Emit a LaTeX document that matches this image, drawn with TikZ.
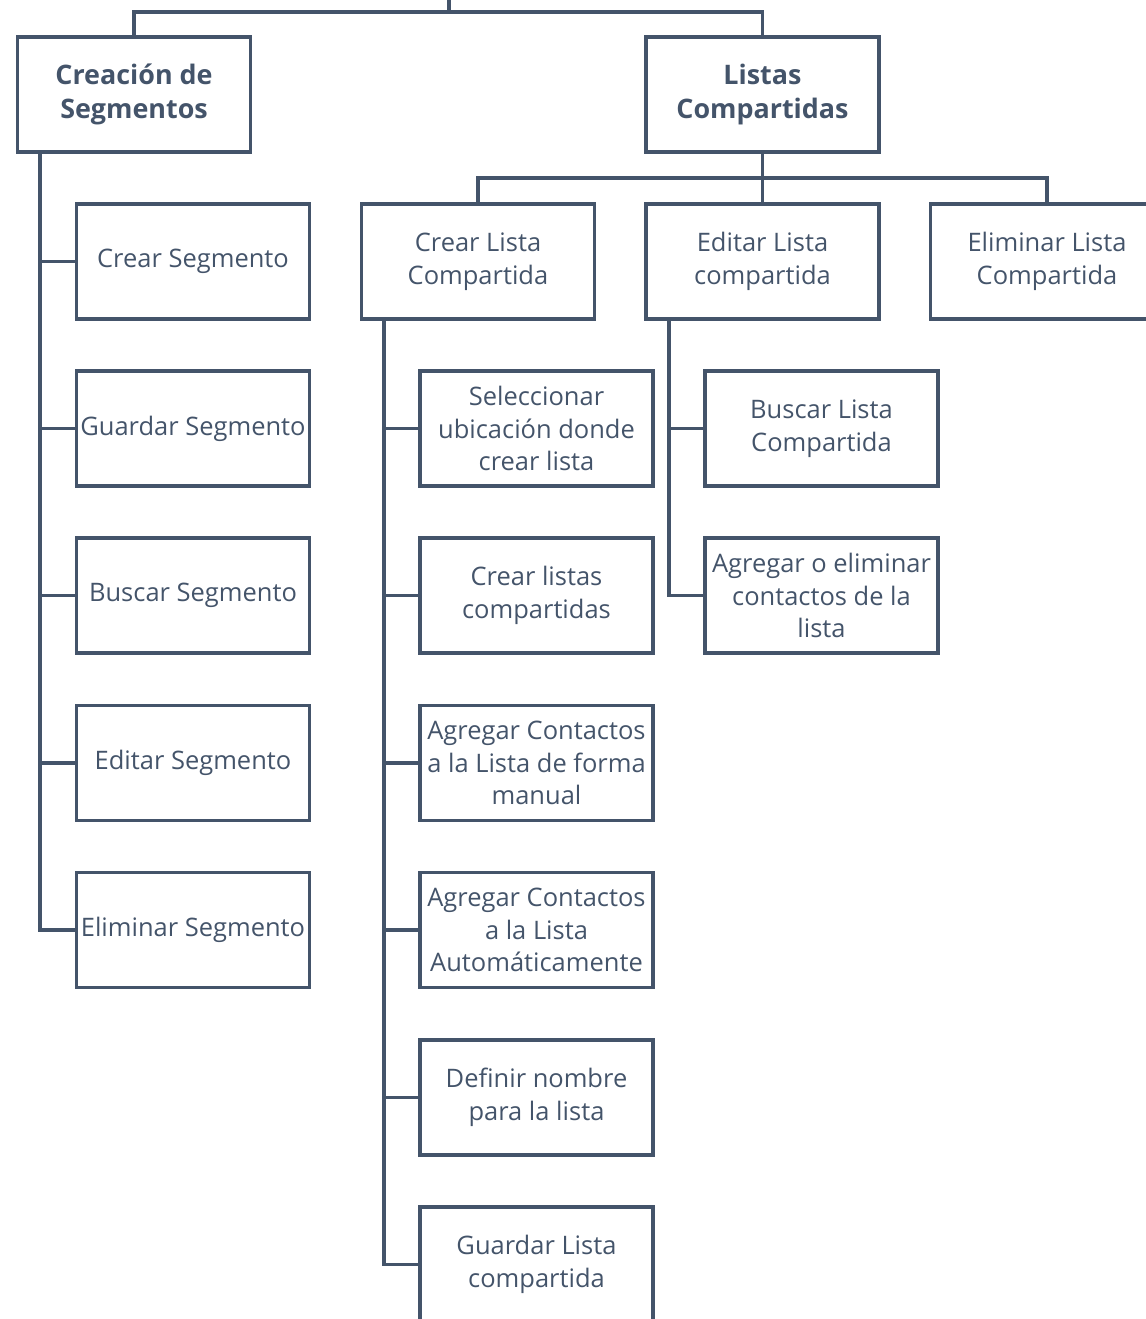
\documentclass[tikz,border=0pt]{standalone}
\usepackage{fontspec}
\setmainfont{Open Sans}
\definecolor{slate}{HTML}{44546A}
\begin{document}
\begin{tikzpicture}
  [x=0.02cm,y=-0.02cm,line width=1.8pt,draw=slate,
   every node/.style={draw=slate,line width=1.8pt,text=slate,align=center,
     minimum width=4.66cm,minimum height=2.3cm,inner sep=1pt,
     font=\fontsize{14.5}{18.6}\selectfont},
   head/.style={font=\fontsize{15.3}{19.4}\selectfont\bfseries}]
  \useasboundingbox (0,0) rectangle (1146,1319);
  \clip (0,0) rectangle (1146,1319);

  \node[head] (seg) at (134,94.5) {Creación de\\Segmentos};
  \node[head] (lis) at (762.5,94.5) {Listas\\Compartidas};

  \node (s1) at (193,261.5) {Crear Segmento};
  \node (s2) at (193,428.5) {Guardar Segmento};
  \node (s3) at (193,595.5) {Buscar Segmento};
  \node (s4) at (193,763)   {Editar Segmento};
  \node (s5) at (193,930)   {Eliminar Segmento};

  \node (l1) at (478,261.5)  {Crear Lista\\Compartida};
  \node (l2) at (762.5,261.5) {Editar Lista\\compartida};
  \node (l3) at (1047,261.5) {Eliminar Lista\\Compartida};

  \node (c1) at (536.5,428.5) {Seleccionar\\ubicación donde\\crear lista};
  \node (c2) at (536.5,595.5) {Crear listas\\compartidas};
  \node (c3) at (536.5,763)   {Agregar Contactos\\a la Lista de forma\\manual};
  \node (c4) at (536.5,930)   {Agregar Contactos\\a la Lista\\Automáticamente};
  \node (c5) at (536.5,1097.5) {Definir nombre\\para la lista};
  \node (c6) at (536.5,1264.5) {Guardar Lista\\compartida};

  \node (e1) at (821.5,428.5) {Buscar Lista\\Compartida};
  \node (e2) at (821.5,595.5) {Agregar o eliminar\\contactos de la\\lista};

  \coordinate (topend) at (449,-5);
  \coordinate (topjoin) at (449,12);
  \coordinate (lisjoin) at (762.5,178);
  \coordinate (segroot) at (40,153);
  \coordinate (crroot) at (384,320);
  \coordinate (edroot) at (669,320);

  \draw (topend) -- (topjoin);
  \foreach \to in {seg,lis}
    \draw (topjoin) -| (\to.north);
  \draw (lis.south) -- (lisjoin);
  \foreach \to in {l1,l2,l3}
    \draw (lisjoin) -| (\to.north);
  \foreach \to in {s1,s2,s3,s4,s5}
    \draw (segroot) |- (\to.west);
  \foreach \to in {c1,c2,c3,c4,c5,c6}
    \draw (crroot) |- (\to.west);
  \foreach \to in {e1,e2}
    \draw (edroot) |- (\to.west);

\end{tikzpicture}
\end{document}
